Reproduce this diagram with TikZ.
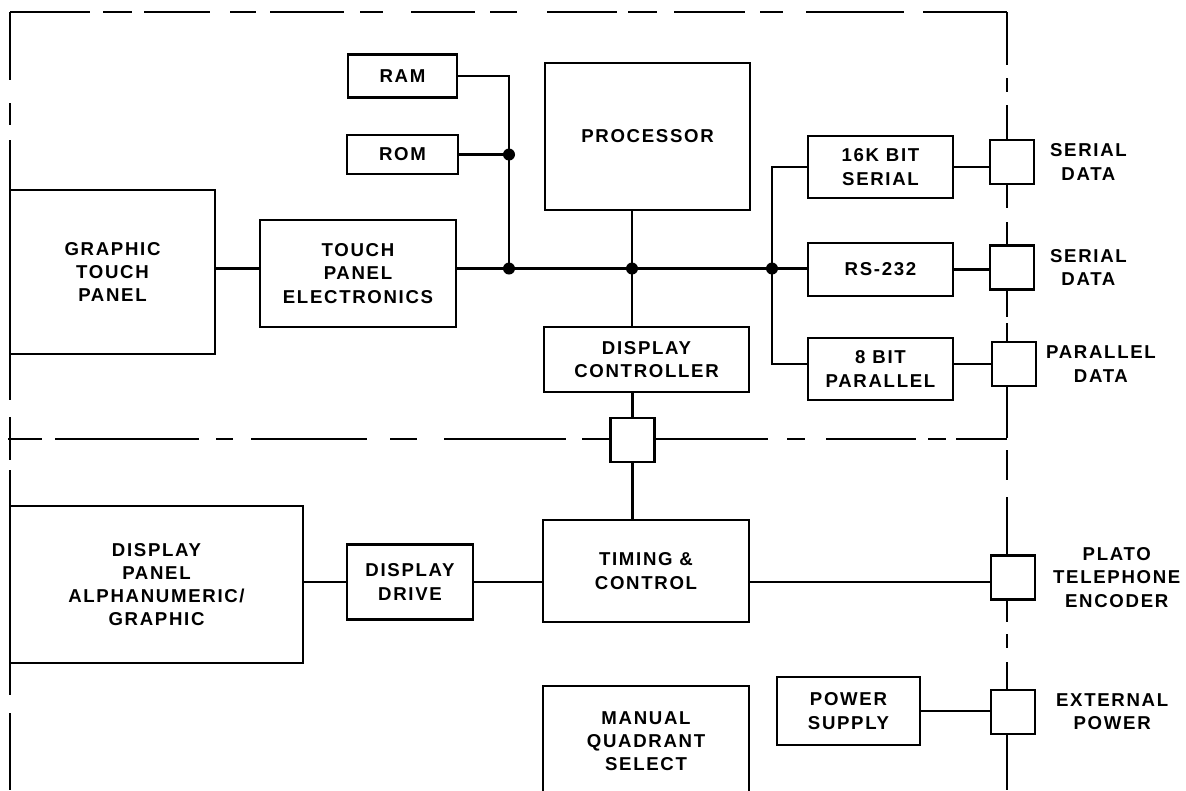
\documentclass[tikz,border=0pt]{standalone}
\usepackage{fontspec}
\setmainfont[LetterSpace=9]{Liberation Sans}
\usetikzlibrary{positioning}
\tikzset{
  unit/.style  = {draw, rectangle, line width=0.8pt, inner sep=0pt, align=center},
  port/.style  = {draw, rectangle, line width=0.8pt, inner sep=0pt,
                  minimum width=0.44cm, minimum height=0.44cm},
  jdot/.style  = {fill, circle, inner sep=0pt, minimum size=0.12cm},
  wire/.style  = {line width=0.7pt},
  frame/.style = {line width=0.8pt},
  lbl/.style   = {align=center, inner sep=0pt},
}
\begin{document}
\begin{tikzpicture}[x=1cm, y=-1cm, font=\fontsize{5.3}{6.6}\selectfont\bfseries]
\useasboundingbox (0,0) rectangle (11.86,7.90);
\clip (0,0) rectangle (11.86,7.90);
% ---------------- dashed enclosure ----------------
\foreach \a/\b in {0.10/0.90, 1.03/1.32, 1.44/2.10, 2.30/2.56, 2.70/3.44,
                   3.60/3.83, 4.11/4.75, 4.90/5.17, 5.47/6.17, 6.28/6.57,
                   6.74/7.45, 7.60/7.83, 8.06/9.04, 9.23/10.07}
  \draw[frame] (\a,0.12) -- (\b,0.12);
\foreach \a/\b in {0.12/0.80, 1.03/1.25, 1.40/4.00, 4.17/4.60, 4.70/6.95, 7.13/7.90}
  \draw[frame] (0.10,\a) -- (0.10,\b);
\foreach \a/\b in {0.12/0.65, 0.78/0.92, 1.05/1.41, 1.83/2.08, 2.22/2.46,
                   2.89/3.17, 3.23/3.42, 3.86/4.38, 4.50/4.80, 4.97/5.56,
                   5.99/6.22, 6.34/6.48, 6.62/6.90, 7.33/7.90}
  \draw[frame] (10.07,\a) -- (10.07,\b);
% upper / lower section divider
\foreach \a/\b in {0.08/0.42, 0.55/1.99, 2.16/2.33, 2.51/3.67, 3.90/4.17,
                   4.44/5.66, 5.82/6.11, 6.54/7.68, 7.87/8.05, 8.26/9.16,
                   9.28/9.46, 9.56/10.07}
  \draw[frame] (\a,4.39) -- (\b,4.39);
% ---------------- upper section ----------------
\node[unit, minimum width=1.09cm, minimum height=0.43cm] (ram) at (4.025,0.76) {RAM};
\node[unit, minimum width=1.11cm, minimum height=0.39cm] (rom) at (4.025,1.545) {ROM};
\node[unit, minimum width=2.05cm, minimum height=1.47cm] (proc) at (6.475,1.365) {PROCESSOR};
\node[unit, minimum width=2.05cm, minimum height=1.64cm] (gtp) at (1.125,2.72)
  {GRAPHIC\\TOUCH\\PANEL};
\node[unit, minimum width=1.96cm, minimum height=1.07cm] (tpe) at (3.58,2.735)
  {TOUCH\\PANEL\\ELECTRONICS};
\node[unit, minimum width=2.05cm, minimum height=0.65cm] (dc) at (6.465,3.595)
  {DISPLAY\\CONTROLLER};
\node[unit, minimum width=1.45cm, minimum height=0.62cm] (ser16) at (8.805,1.67)
  {16K BIT\\SERIAL};
\node[unit, minimum width=1.45cm, minimum height=0.53cm] (rs) at (8.805,2.695) {RS-232};
\node[unit, minimum width=1.45cm, minimum height=0.62cm] (par8) at (8.805,3.69)
  {8 BIT\\PARALLEL};
% ports on the enclosure
\node[port] (port1) at (10.12,1.62) {};
\node[port] (port2) at (10.12,2.675) {};
\node[port] (port3) at (10.14,3.64) {};
\node[port] (midport) at (6.325,4.40) {};
\node[lbl, right=0.14 of port1] (lser1) {SERIAL\\DATA};
\node[lbl, right=0.14 of port2] (lser2) {SERIAL\\DATA};
\node[lbl, right=0.08 of port3] (lpar) {PARALLEL\\DATA};
% bus junctions
\coordinate (jmem) at (5.09,2.685);
\coordinate (jproc) at (6.32,2.685);
\coordinate (jser) at (7.72,2.685);
\coordinate (jrom) at (rom.east -| jmem);
\draw[wire] (ram.east) -- (ram.east -| jmem) -- (jmem);
\draw[wire] (rom.east) -- (jrom);
\draw[wire] (gtp.east |- jmem) -- (tpe.west |- jmem);
\draw[wire] (tpe.east |- jmem) -- (jser -| rs.west);
\draw[wire] (jproc |- proc.south) -- (jproc |- dc.north);
\draw[wire] (ser16.west) -| (jser) |- (par8.west |- port3.west);
\draw[wire] (ser16.east) -- (ser16.east -| port1.west);
\draw[wire] (rs.east) -- (rs.east -| port2.west);
\draw[wire] (par8.east |- port3.west) -- (port3.west);
\foreach \j in {jrom,jmem,jproc,jser}
  \node[jdot] (d-\j) at (\j) {};
% ---------------- lower section ----------------
\node[unit, minimum width=2.93cm, minimum height=1.57cm] (dpag) at (1.565,5.845)
  {DISPLAY\\PANEL\\ALPHANUMERIC/\\GRAPHIC};
\node[unit, minimum width=1.26cm, minimum height=0.75cm] (dd) at (4.10,5.82)
  {DISPLAY\\DRIVE};
\node[unit, minimum width=2.06cm, minimum height=1.02cm] (tim) at (6.46,5.71)
  {TIMING \&\\CONTROL};
\node[unit, minimum width=1.43cm, minimum height=0.68cm] (pwr) at (8.485,7.11)
  {POWER\\SUPPLY};
\node[unit, minimum width=2.06cm, minimum height=1.10cm] (mqs) at (6.46,7.41)
  {MANUAL\\QUADRANT\\SELECT};
\node[port] (port4) at (10.13,5.775) {};
\node[port] (port5) at (10.13,7.12) {};
\node[lbl, right=0.16 of port4] (lplato) {PLATO\\TELEPHONE\\ENCODER};
\node[lbl, right=0.19 of port5] (lext) {EXTERNAL\\POWER};
\draw[wire] (midport.north |- dc.south) -- (midport.north);
\draw[wire] (midport.south) -- (midport.south |- tim.north);
\draw[wire] (dpag.east |- dd.west) -- (dd.west);
\draw[wire] (dd.east) -- (dd.east -| tim.west);
\draw[wire] (tim.east |- dd.east) -- (dd.east -| port4.west);
\draw[wire] (pwr.east) -- (pwr.east -| port5.west);
\end{tikzpicture}
\end{document}
